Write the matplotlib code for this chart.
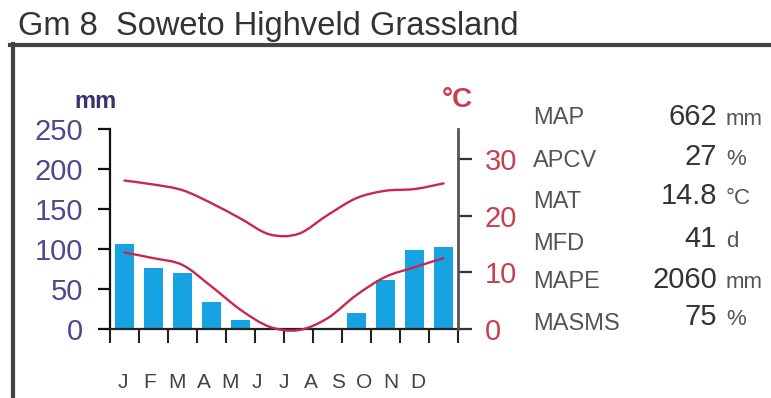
import matplotlib
matplotlib.use("Agg")
import matplotlib.pyplot as plt
from matplotlib.path import Path
from matplotlib.patches import PathPatch
from matplotlib.lines import Line2D
import numpy as np

plt.rcParams['font.family'] = ['Liberation Sans', 'DejaVu Sans']

# ---- data -------------------------------------------------------------
months = ["J", "F", "M", "A", "M", "J", "J", "A", "S", "O", "N", "D"]
rain_mm = [106, 76, 70, 34, 11, 0, 0, 0, 20, 61, 99, 102]
temp_max = [26.2, 25.5, 24.5, 22.2, 19.5, 16.7, 16.8, 20.1, 23.1, 24.4, 24.7, 25.7]
temp_min = [13.5, 12.5, 11.3, 7.5, 3.4, 0.4, -0.2, 1.9, 6.0, 9.2, 10.9, 12.5]
rain_ticks = [0, 50, 100, 150, 200, 250]
temp_ticks = [0, 10, 20, 30]

stat_names = ["MAP", "APCV", "MAT", "MFD", "MAPE", "MASMS"]
stat_values = ["662", "27", "14.8", "41", "2060", "75"]
stat_units = ["mm", "%", "°C", "d", "mm", "%"]

title = "Gm 8  Soweto Highveld Grassland"

# ---- style ------------------------------------------------------------
W, H = 771, 398
BAR = "#17a2e2"
LINE = "#c8284f"
RAIN_TXT = "#4b4b8c"
TEMP_TXT = "#c8404f"
GREY = "#444444"


def fx(px):
    return px / W


def fy(py):
    return 1 - py / H


def smooth_path(xs, ys):
    """Catmull-Rom curve through the points, as cubic Bezier segments."""
    pts = np.column_stack([xs, ys]).astype(float)
    n = len(pts)
    verts = [tuple(pts[0])]
    codes = [Path.MOVETO]
    for i in range(n - 1):
        p0 = pts[i - 1] if i > 0 else pts[i]
        p1 = pts[i]
        p2 = pts[i + 1]
        p3 = pts[i + 2] if i + 2 < n else pts[i + 1]
        c1 = p1 + (p2 - p0) / 6.0
        c2 = p2 - (p3 - p1) / 6.0
        verts += [tuple(c1), tuple(c2), tuple(p2)]
        codes += [Path.CURVE4] * 3
    return Path(verts, codes)


fig = plt.figure(figsize=(W / 100, H / 100), dpi=100)
fig.patch.set_facecolor("white")

ax = fig.add_axes([fx(110), fy(329), 348 / W, 200 / H])
ax2 = ax.twinx()

x = np.arange(len(months)) + 0.5
ax.bar(x, rain_mm, width=0.63, color=BAR, zorder=2)
ax.set_xlim(0, 12)
ax.set_ylim(0, 250)
ax.set_yticks(rain_ticks)
ax.set_xticks(np.arange(13))
ax.set_xticklabels([])

ax2.set_ylim(0, 35.3)
ax2.set_yticks(temp_ticks)

for series in (temp_max, temp_min):
    patch = PathPatch(smooth_path(x, series), facecolor="none",
                      edgecolor=LINE, lw=1.7, clip_on=False, zorder=3,
                      capstyle="round")
    ax2.add_patch(patch)

for a in (ax, ax2):
    a.patch.set_visible(False)
    a.spines["top"].set_visible(False)

ax.spines["left"].set_color("#111111")
ax.spines["left"].set_linewidth(1.6)
ax.spines["bottom"].set_color("#222222")
ax.spines["bottom"].set_linewidth(1.6)
ax.spines["right"].set_visible(False)
ax2.spines["left"].set_visible(False)
ax2.spines["bottom"].set_visible(False)
ax2.spines["right"].set_color("#555555")
ax2.spines["right"].set_linewidth(2.0)

ax.tick_params(axis="y", direction="out", length=8.6, width=1.6,
               color="#111111", labelsize=21, labelcolor=RAIN_TXT, pad=11)
ax.tick_params(axis="x", direction="out", length=10, width=1.5,
               color="#222222")
ax2.tick_params(axis="y", direction="out", length=10, width=1.6,
                color="#333333", labelsize=21, labelcolor=TEMP_TXT, pad=9)

# month initials under the axis
for i, m in enumerate(months):
    ax.text(0.45 + i * 0.925, -0.27, m, transform=ax.get_xaxis_transform(),
            ha="center", va="center", fontsize=15, color=GREY)

# axis unit captions
fig.text(fx(96), fy(101), "mm", ha="center", va="center", fontsize=17,
         fontweight="bold", color="#34346e")
fig.text(fx(457), fy(100), "°C", ha="center", va="center", fontsize=20,
         fontweight="bold", color=TEMP_TXT)

# title and frame
fig.text(fx(18), fy(35), title, ha="left", va="baseline", fontsize=23.5,
         color="#333333")
fig.add_artist(Line2D([fx(10), fx(771)], [fy(45), fy(45)], color="#444444",
                      lw=3, transform=fig.transFigure))
fig.add_artist(Line2D([fx(13), fx(13)], [fy(44), fy(398)], color="#444444",
                      lw=3, transform=fig.transFigure))

# summary statistics
label_base = [124, 167, 208, 250, 288, 330]
value_base = [125, 165, 204, 247, 288, 325]
for name, val, unit, lb, vb in zip(stat_names, stat_values, stat_units,
                                    label_base, value_base):
    fig.text(fx(533), fy(lb), name, ha="left", va="baseline", fontsize=17,
             color="#555555")
    fig.text(fx(717), fy(vb), val, ha="right", va="baseline", fontsize=21,
             color="#333333")
    fig.text(fx(726), fy(vb), unit, ha="left", va="baseline", fontsize=16,
             color="#555555")

fig.savefig("out.png", dpi=100)
